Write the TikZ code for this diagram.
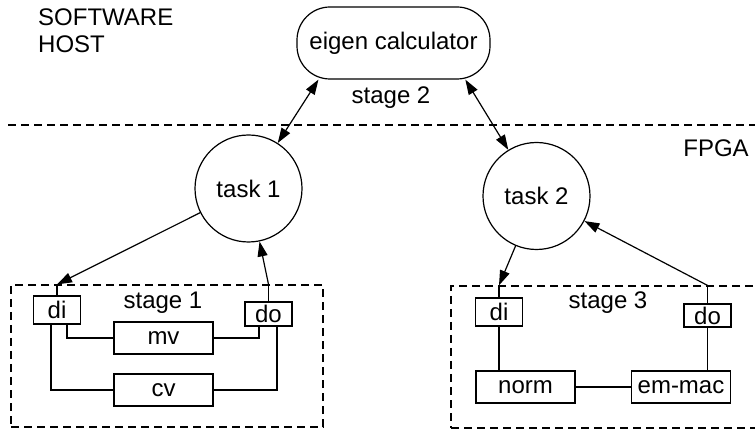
\documentclass[tikz,border=0pt]{standalone}
\usepackage{fontspec}
\setmainfont{Liberation Sans}
\usetikzlibrary{arrows.meta, positioning, calc}

\tikzset{
  lbl/.style={inner sep=0pt, font=\fontsize{24}{27}\selectfont},
  blk/.style={lbl, draw, line width=1.2pt, minimum width=99pt, minimum height=32pt},
  port/.style={lbl, draw, line width=1.2pt, minimum width=47pt, minimum height=26pt},
  task/.style={lbl, draw, circle, line width=1.2pt, minimum size=107pt},
  stagebox/.style={draw, line width=1.2pt, dash pattern=on 8pt off 5pt, inner sep=0pt},
  link/.style={line width=1.2pt},
  arr/.style={line width=1.2pt, -{Triangle[length=15pt, width=10pt]}},
  biarr/.style={line width=1.2pt, {Triangle[length=15pt, width=10pt]}-{Triangle[length=15pt, width=10pt]}},
}

\begin{document}
\begin{tikzpicture}[x=1pt, y=-1pt]
  \useasboundingbox (0,0) rectangle (755,430);
  \clip (0,0) rectangle (755,430);

  % host side
  \node[lbl, anchor=north west, align=left] (host) at (38,9) {SOFTWARE\\HOST};
  \node[lbl, draw, line width=1.2pt, rounded corners=33pt, minimum width=193pt, minimum height=72pt] (eigen) at (393.5,43) {eigen calculator};
  \node[lbl] (stg2lbl) at (391,98) {stage 2};

  % boundary
  \coordinate (bl) at (8,125);
  \coordinate (br) at (755,125);
  \draw[stagebox] (bl) -- (br);
  \node[lbl] (fpga) at (716,148) {FPGA};

  % tasks
  \node[task] (task1) at (248.5,188.5) {task 1};
  \node[task] (task2) at (536.5,196) {task 2};

  % stage 1
  \node[stagebox, minimum width=312pt, minimum height=142pt] (stg1) at (167,356) {};
  \node[lbl] (stg1lbl) at (163,303) {stage 1};
  \node[port, minimum height=28pt] (di1) at (57,310) {di};
  \node[port, minimum height=24pt] (do1) at (268.5,314) {do};
  \node[blk] (mv) at (163.5,338) {mv};
  \node[blk] (cv) at (163.5,390) {cv};

  % stage 3
  \node[stagebox, minimum width=314pt, minimum height=142pt] (stg3) at (608,357) {};
  \node[lbl] (stg3lbl) at (608,303) {stage 3};
  \node[port, minimum height=28pt] (di2) at (499,312) {di};
  \node[port, minimum height=23pt] (do2) at (707.5,315.5) {do};
  \node[blk] (norm) at (525.5,387) {norm};
  \node[blk] (emmac) at (681,387) {em-mac};

  % stage 1 wiring
  \draw[link] ([xshift=10pt]di1.south) |- (mv.west);
  \draw[link] ([xshift=-6pt]di1.south) |- (cv.west);
  \draw[link] (mv.east) -| ([xshift=-9.5pt]do1.south);
  \draw[link] (cv.east) -| ([xshift=8.5pt]do1.south);

  % stage 3 wiring
  \draw[link] (di2.south) -- (di2.south |- norm.north);
  \draw[link] (norm.east) -- (emmac.west);
  \draw[link] (do2.south) -- (do2.south |- emmac.north);

  % ports to stage borders
  \coordinate (in1) at (di1.north |- stg1.north);
  \coordinate (out1) at (do1.north |- stg1.north);
  \coordinate (in2) at (di2.north |- stg3.north);
  \coordinate (out2) at (do2.north |- stg3.north);
  \draw[link] (di1.north) -- (in1);
  \draw[link] (do1.north) -- (out1);
  \draw[link] (di2.north) -- (in2);
  \draw[link] (do2.north) -- (out2);

  % arrows
  \draw[biarr] (eigen.206) -- (task1);
  \draw[biarr] (eigen.333) -- (task2);
  \draw[arr] (task1) -- (in1);
  \draw[arr] (out1) -- (task1);
  \draw[arr] (task2) -- (in2);
  \draw[arr] (out2) -- (task2);
\end{tikzpicture}
\end{document}
